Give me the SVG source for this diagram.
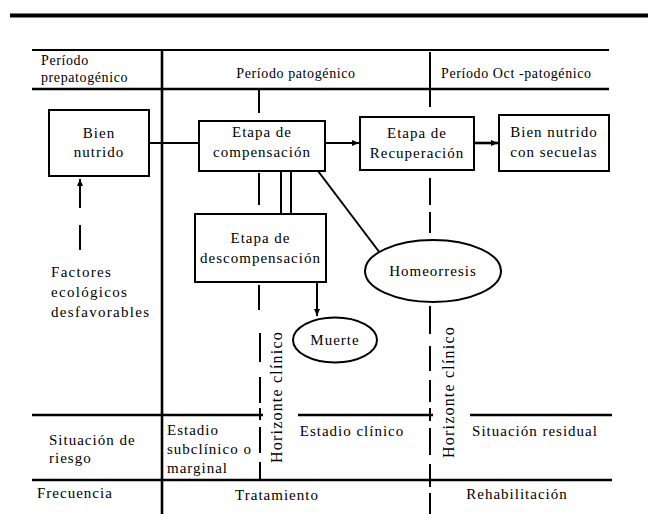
<svg xmlns="http://www.w3.org/2000/svg" width="648" height="514" viewBox="0 0 648 514">
<style>
text{font-family:"Liberation Serif","Times New Roman",serif;font-size:15px;fill:#000;letter-spacing:1px}
.h{font-size:14px;letter-spacing:0.6px}
.c{text-anchor:middle}
.box{fill:#fff;stroke:#000;stroke-width:2}
.ln{stroke:#000;stroke-width:2;fill:none}
.tk{stroke:#000;stroke-width:2.6;fill:none}
.vt{font-size:16px;letter-spacing:1.2px}
</style>
<defs>
<marker id="ah" markerWidth="8" markerHeight="8" refX="7" refY="4" orient="auto" markerUnits="userSpaceOnUse">
<path d="M0,1 L7,4 L0,7 Z" fill="#000"/>
</marker>
</defs>
<rect width="648" height="514" fill="#fff"/>
<g id="table">
<line x1="10" y1="15.5" x2="648" y2="15.5" stroke="#000" stroke-width="4"/>
<line class="ln" x1="32" y1="50" x2="609" y2="50"/>
<line class="tk" x1="32" y1="89" x2="609" y2="89"/>
<line class="tk" x1="162" y1="50" x2="162" y2="514"/>
<line class="ln" x1="430" y1="52" x2="430" y2="89"/>
<line class="tk" x1="32" y1="415" x2="263" y2="415"/>
<line class="tk" x1="298" y1="415" x2="433" y2="415"/>
<line class="tk" x1="470" y1="415" x2="612" y2="415"/>
<line class="tk" x1="32" y1="480" x2="612" y2="480"/>
<text class="h" x="41" y="65">Período</text>
<text class="h" x="41" y="82">prepatogénico</text>
<text class="h c" x="296" y="78">Período patogénico</text>
<text class="h" x="441" y="78">Período Oct -patogénico</text>
<text x="49" y="445">Situación de</text>
<text x="49" y="463">riesgo</text>
<text x="167" y="435">Estadio</text>
<text x="167" y="454">subclínico o</text>
<text x="167" y="473">marginal</text>
<text class="c" x="352" y="436">Estadio clínico</text>
<text class="c" x="535" y="436">Situación residual</text>
<text x="37" y="498">Frecuencia</text>
<text class="c" x="277" y="500">Tratamiento</text>
<text class="c" x="517" y="499">Rehabilitación</text>
</g>
<g id="horizonte-1">
<line class="ln" x1="259" y1="89" x2="259" y2="113"/>
<line class="ln" x1="259" y1="173" x2="259" y2="205"/>
<line class="ln" x1="259" y1="285" x2="259" y2="310"/>
<line class="ln" x1="260" y1="333" x2="260" y2="362"/>
<line class="ln" x1="260" y1="377" x2="260" y2="403"/>
<line class="ln" x1="260" y1="408" x2="260" y2="420"/>
<line class="ln" x1="260" y1="427" x2="260" y2="453"/>
<line class="ln" x1="260" y1="462" x2="260" y2="481"/>
<text class="vt" transform="translate(282,463) rotate(-90)">Horizonte clínico</text>
</g>
<g id="horizonte-2">
<line class="ln" x1="430" y1="89" x2="430" y2="107"/>
<line class="ln" x1="430" y1="178" x2="430" y2="205"/>
<line class="ln" x1="430" y1="212" x2="430" y2="233"/>
<line class="ln" x1="430" y1="306" x2="430" y2="334"/>
<line class="ln" x1="430" y1="346" x2="430" y2="371"/>
<line class="ln" x1="430" y1="380" x2="430" y2="402"/>
<line class="ln" x1="430" y1="408" x2="430" y2="421"/>
<line class="ln" x1="430" y1="428" x2="430" y2="455"/>
<line class="ln" x1="430" y1="464" x2="430" y2="487"/>
<line class="ln" x1="430" y1="493" x2="430" y2="514"/>
<text class="vt" transform="translate(454,458) rotate(-90)">Horizonte clínico</text>
</g>
<g id="connectors">
<line class="ln" x1="149" y1="143" x2="199" y2="143"/>
<line class="ln" x1="325" y1="143" x2="359" y2="143" marker-end="url(#ah)"/>
<line class="tk" x1="474" y1="143" x2="498" y2="143" marker-end="url(#ah)"/>
<line class="ln" x1="281" y1="171" x2="281" y2="214"/>
<line class="ln" x1="291" y1="171" x2="291" y2="214"/>
<line class="ln" x1="318" y1="171" x2="380" y2="253"/>
<line class="ln" x1="317" y1="282" x2="317" y2="316" marker-end="url(#ah)"/>
<line class="ln" x1="80" y1="208" x2="80" y2="179" marker-end="url(#ah)"/>
<line class="ln" x1="80" y1="225" x2="80" y2="250"/>
</g>
<g id="bien-nutrido">
<rect class="box" x="49" y="110" width="100" height="66"/>
<text class="c" x="99" y="138">Bien</text>
<text class="c" x="99" y="157">nutrido</text>
</g>
<g id="compensacion">
<rect class="box" x="199" y="121" width="126" height="50"/>
<text class="c" x="262" y="137">Etapa de</text>
<text class="c" x="262" y="157">compensación</text>
</g>
<g id="recuperacion">
<rect class="box" x="360" y="117" width="114" height="53"/>
<text class="c" x="417" y="138">Etapa de</text>
<text class="c" x="417" y="158">Recuperación</text>
</g>
<g id="secuelas">
<rect class="box" x="499" y="115" width="110" height="56"/>
<text class="c" x="554" y="137">Bien nutrido</text>
<text class="c" x="554" y="157">con secuelas</text>
</g>
<g id="descompensacion">
<rect class="box" x="195" y="214" width="131" height="68"/>
<text class="c" x="260.5" y="243">Etapa de</text>
<text class="c" x="260.5" y="263">descompensación</text>
</g>
<g id="homeorresis">
<ellipse class="box" cx="433" cy="271" rx="68" ry="31"/>
<text class="c" x="433" y="276">Homeorresis</text>
</g>
<g id="muerte">
<ellipse class="box" cx="335" cy="340" rx="42" ry="22.5"/>
<text class="c" x="335" y="345">Muerte</text>
</g>
<g id="factores">
<text x="51" y="277" style="letter-spacing:1.3px">Factores</text>
<text x="51" y="297" style="letter-spacing:1.3px">ecológicos</text>
<text x="51" y="317" style="letter-spacing:1.3px">desfavorables</text>
</g>
</svg>
